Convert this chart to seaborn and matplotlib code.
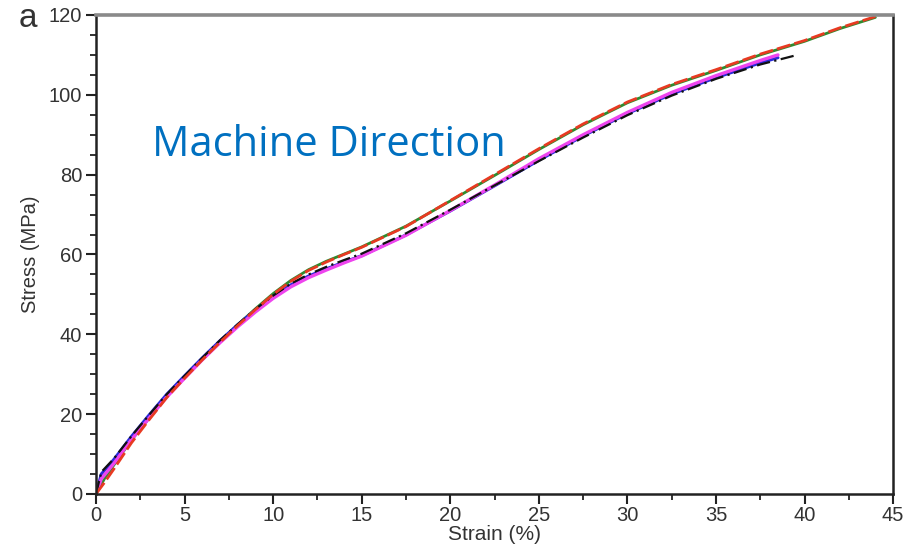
import numpy as np
import pandas as pd
import matplotlib
matplotlib.use("Agg")
import matplotlib.pyplot as plt
import seaborn as sns
from matplotlib.ticker import MultipleLocator

# Stress–strain curves, machine direction (five specimens)
strain_red = [0, 0.5, 1, 2, 3, 4, 5, 6, 7, 8, 9, 10, 11, 12, 13, 14, 15, 17.5,
              20, 22.5, 25, 27.5, 30, 32.5, 35, 37.5, 40, 42, 44]
stress_red = [0, 3.0, 6.2, 12.8, 18.6, 24.2, 29.0, 33.6, 38.0, 42.2, 46.2, 50.0, 53.3, 56.0, 58.1,
              60.0, 61.8, 67.0, 73.5, 80.0, 86.5, 92.7, 98.2, 102.6, 106.3, 110.2, 113.6, 116.8, 119.6]

strain_green = [0, 0.5, 1, 2, 3, 4, 5, 6, 7, 8, 9, 10, 11, 12, 13, 14, 15, 17.5,
                20, 22.5, 25, 27.5, 30, 32.5, 35, 37.5, 40, 42, 44]
stress_green = [0, 4.0, 7.2, 13.5, 19.0, 24.5, 29.2, 33.8, 38.2, 42.4, 46.4, 50.2, 53.5, 56.2, 58.3,
                60.1, 61.9, 67.1, 73.4, 79.8, 86.3, 92.5, 98.0, 102.4, 106.1, 110.0, 113.4, 116.6, 119.4]

strain_blue = [0, 0.3, 1, 2, 3, 4, 5, 6, 7, 8, 9, 10, 11, 12, 13, 14, 15, 17.5,
               20, 22.5, 25, 27.5, 30, 32.5, 35, 37.5, 38.5]
stress_blue = [0, 5.0, 8.6, 14.4, 19.8, 25.0, 29.6, 34.1, 38.4, 42.4, 46.1, 49.5, 52.4, 54.6, 56.4,
               58.1, 59.7, 64.9, 70.9, 77.2, 83.6, 89.7, 95.3, 100.2, 104.3, 108.0, 109.3]

strain_magenta = [0, 0.3, 1, 2, 3, 4, 5, 6, 7, 8, 9, 10, 11, 12, 13, 14, 15, 17.5,
                  20, 22.5, 25, 27.5, 30, 32.5, 35, 37.5, 38.5]
stress_magenta = [0, 3.8, 7.6, 13.6, 19.0, 24.3, 29.0, 33.6, 37.9, 41.9, 45.6, 49.0, 51.9, 54.2, 56.1,
                  57.9, 59.6, 64.8, 71.0, 77.4, 84.0, 90.0, 95.6, 100.6, 104.8, 108.6, 110.0]

strain_black = [0, 0.3, 1, 2, 3, 4, 5, 6, 7, 8, 9, 10, 11, 12, 13, 14, 15, 17.5,
                20, 22.5, 25, 27.5, 30, 32.5, 35, 37.5, 39.6]
stress_black = [0, 5.5, 8.8, 14.5, 19.8, 25.0, 29.6, 34.1, 38.5, 42.5, 46.3, 49.7, 52.7, 55.0, 56.9,
                58.6, 60.2, 65.3, 71.2, 77.3, 83.4, 89.3, 94.9, 99.8, 104.0, 107.6, 110.0]

x_ticks = [0, 5, 10, 15, 20, 25, 30, 35, 40, 45]
y_ticks = [0, 20, 40, 60, 80, 100, 120]

sns.set_theme(style="ticks")
plt.rcParams["font.family"] = ["Liberation Sans", "DejaVu Sans"]

fig = plt.figure(figsize=(9.16, 5.49), dpi=100)
ax = fig.add_axes([0.1048, 0.1002, 0.8702, 0.8725])

series = [
    (strain_green, stress_green, "#2e8b2e", "-", 2.0),
    (strain_blue, stress_blue, "#2a2ad8", "-", 2.2),
    (strain_magenta, stress_magenta, "#ee44ee", "-", 2.4),
    (strain_black, stress_black, "#111111", (0, (6, 2, 1, 2)), 1.6),
    (strain_red, stress_red, "#e83a22", (0, (5, 1.5)), 2.0),
]
for xs, ys, col, ls, lw in series:
    sns.lineplot(x=xs, y=ys, ax=ax, color=col, linestyle=ls, linewidth=lw,
                 sort=False, estimator=None)

ax.set_xlim(0, 45)
ax.set_ylim(0, 120)
ax.set_xticks(x_ticks)
ax.set_yticks(y_ticks)
ax.xaxis.set_minor_locator(MultipleLocator(2.5))
ax.yaxis.set_minor_locator(MultipleLocator(5))
ax.tick_params(axis="both", which="major", direction="out", length=7, width=1.5,
               color="#222222", labelsize=14.5, labelcolor="#333333", pad=3)
ax.tick_params(axis="x", which="major", pad=2)
ax.tick_params(axis="both", which="minor", direction="out", length=4, width=1.3,
               color="#222222")

for side in ("left", "bottom", "right"):
    ax.spines[side].set_color("#222222")
    ax.spines[side].set_linewidth(1.8)
ax.spines["top"].set_color("#8a8a8a")
ax.spines["top"].set_linewidth(2.6)

ax.set_xlabel("Strain (%)", fontsize=15, color="#333333", labelpad=0)
ax.set_ylabel("Stress (MPa)", fontsize=14.5, color="#333333", labelpad=6)

ax.text(0.070, 0.729, "Machine Direction", transform=ax.transAxes,
        fontsize=30, color="#0070C0", family=["Open Sans", "DejaVu Sans"],
        ha="left", va="center")
fig.text(0.020, 0.951, "a", fontsize=24, color="#333333", ha="left", va="baseline")

fig.savefig("out.png", dpi=100, facecolor="white")
